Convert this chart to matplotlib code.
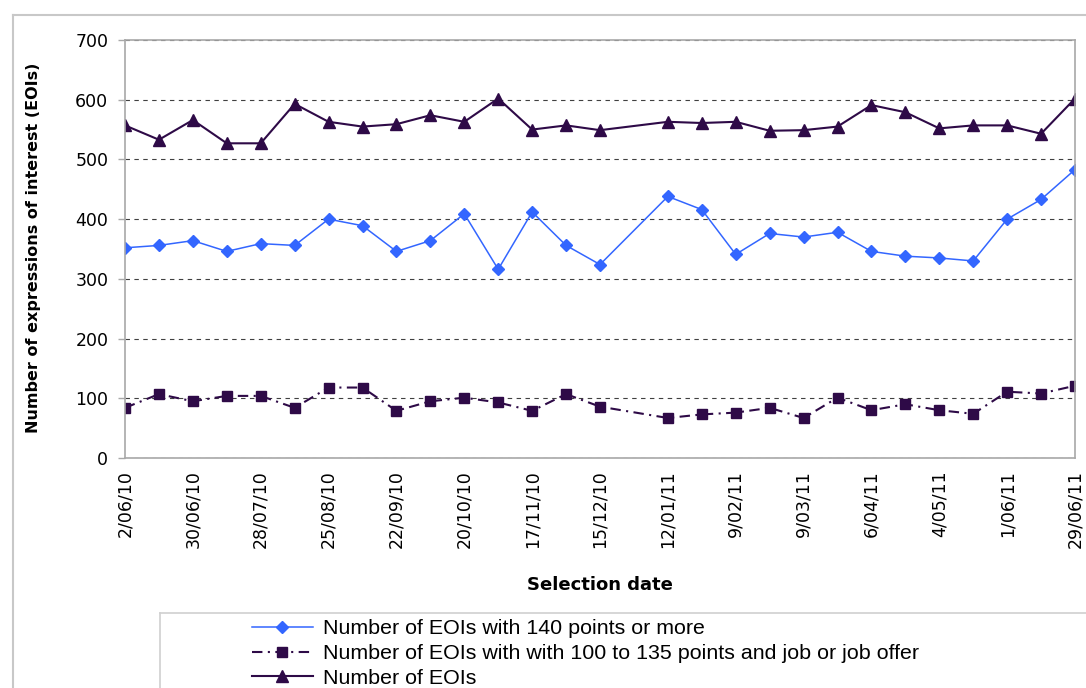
import numpy as np
import pandas as pd
import matplotlib
matplotlib.use("Agg")
import matplotlib.pyplot as plt
from matplotlib.lines import Line2D

# selection rounds (fortnightly, no round on 29/12/10)
dates = ['2010-06-02', '2010-06-16', '2010-06-30', '2010-07-14', '2010-07-28',
	'2010-08-11', '2010-08-25', '2010-09-08', '2010-09-22', '2010-10-06',
	'2010-10-20', '2010-11-03', '2010-11-17', '2010-12-01', '2010-12-15',
	'2011-01-12', '2011-01-26', '2011-02-09', '2011-02-23', '2011-03-09',
	'2011-03-23', '2011-04-06', '2011-04-20', '2011-05-04', '2011-05-18',
	'2011-06-01', '2011-06-15', '2011-06-29']

eois_140_plus = [352, 356, 364, 346, 359, 356, 400, 389, 346, 364, 409, 316, 412, 356, 324,
	438, 416, 341, 376, 370, 378, 346, 338, 335, 330, 400, 433, 483]
eois_100_135_job = [84, 107, 95, 104, 104, 84, 118, 118, 79, 95, 101, 93, 79, 107, 86,
	67, 73, 76, 84, 67, 101, 80, 90, 80, 74, 111, 108, 121]
eois_total = [557, 533, 566, 527, 527, 593, 563, 555, 559, 574, 563, 602, 550, 557, 549,
	563, 561, 563, 548, 549, 555, 591, 579, 552, 557, 557, 543, 602]

tick_labels = ['2/06/10', '30/06/10', '28/07/10', '25/08/10', '22/09/10', '20/10/10',
	'17/11/10', '15/12/10', '12/01/11', '9/02/11', '9/03/11', '6/04/11', '4/05/11',
	'1/06/11', '29/06/11']
y_ticks = [0, 100, 200, 300, 400, 500, 600, 700]

series_labels = ['Number of EOIs with 140 points or more',
	'Number of EOIs with with 100 to 135 points and job or job offer',
	'Number of EOIs']

BLUE = '#3366ff'
PURPLE = '#2e0a47'
GRAY = '#a8a8a8'

x = pd.to_datetime(dates)
tick_pos = pd.to_datetime(tick_labels, format='%d/%m/%y')

W, H = 1086, 688
fig = plt.figure(figsize=(W / 100, H / 100), dpi=100)
ax = fig.add_axes([125 / W, 1 - 458 / H, (1075 - 125) / W, (458 - 40) / H])

ax.plot(x, eois_140_plus, color=BLUE, lw=1.1, marker='D', ms=6.5, zorder=3)
ax.plot(x, eois_100_135_job, color=PURPLE, lw=1.5, ls=(0, (5, 2.6, 1, 2.6)),
	marker='s', ms=7, zorder=3)
ax.plot(x, eois_total, color=PURPLE, lw=1.5, marker='^', ms=8.5, zorder=3)

ax.set_xlim(x[0], x[-1])
ax.set_ylim(0, 700)
ax.set_yticks(y_ticks)
ax.set_xticks(tick_pos)
ax.set_xticklabels(tick_labels, rotation=90, va='top', ha='center')
ax.tick_params(axis='x', length=0, pad=9, labelsize=12.5)
ax.tick_params(axis='y', length=5, width=1, color=GRAY, pad=7, labelsize=12.5)
ax.grid(axis='y', color='#404040', ls=(0, (4, 4)), lw=0.8, zorder=1)
for sp in ax.spines.values():
	sp.set_color(GRAY)
	sp.set_linewidth(1.2)
	sp.set_zorder(4)

fig.text(34 / W, 1 - 248 / H, 'Number of expressions of interest (EOIs)', fontsize=11.5,
	fontweight='bold', rotation=90, ha='center', va='center')
fig.text(600 / W, 1 - 585 / H, 'Selection date', fontsize=13, fontweight='bold',
	ha='center', va='center')

# chart area frame and legend frame (both run off the canvas)
fig.add_artist(Line2D([12.5 / W, 12.5 / W], [1 - 14.5 / H, -0.1], color='#c8c8c8', lw=1.5))
fig.add_artist(Line2D([12.5 / W, 1.1], [1 - 14.5 / H, 1 - 14.5 / H], color='#c8c8c8', lw=1.5))
fig.add_artist(Line2D([159.5 / W, 159.5 / W], [1 - 613 / H, -0.1], color='#d0d0d0', lw=1.2))
fig.add_artist(Line2D([159.5 / W, 1.1], [1 - 613 / H, 1 - 613 / H], color='#d0d0d0', lw=1.2))

handles = [
	Line2D([], [], color=BLUE, lw=1.1, marker='D', ms=6.5),
	Line2D([], [], color=PURPLE, lw=1.5, ls=(0, (5, 2.6, 1, 2.6)), marker='s', ms=7),
	Line2D([], [], color=PURPLE, lw=1.5, marker='^', ms=8.5),
]
fig.legend(handles, series_labels, loc='upper left', bbox_to_anchor=(252 / W, 1 - 619 / H),
	frameon=False, borderpad=0, borderaxespad=0, handlelength=2.85, handletextpad=0.45,
	labelspacing=0.28, prop={'family': 'Liberation Sans', 'size': 15.4})

fig.savefig('out.png', dpi=100)
